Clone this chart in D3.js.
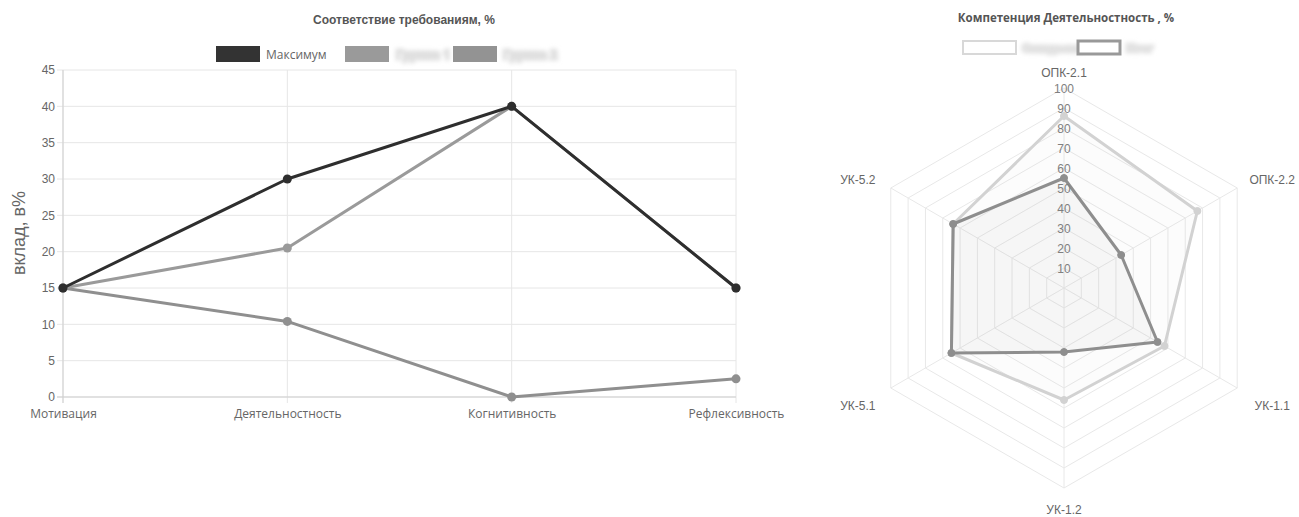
<!DOCTYPE html>
<html><head><meta charset="utf-8">
<script src="https://cdn.jsdelivr.net/npm/d3@7"></script>
<style>body{margin:0;background:#fff}svg{display:block}</style>
</head><body>
<svg id="c" width="1299" height="517"></svg>
<script>
// ---- Line chart data ----
const lineCategories = ["Мотивация","Деятельностность","Когнитивность","Рефлексивность"];
const lineSeriesNames = ["Максимум","Группа 1","Группа 2"];
const maxValues = [15, 30, 40, 15];
const group1Values = [15, 20.5, 40, 15];
const group2Values = [15, 10.4, 0, 2.5];
const yTicks = [0,5,10,15,20,25,30,35,40,45];

// ---- Radar chart data ----
const radarAxes = ["ОПК-2.1","ОПК-2.2","УК-1.1","УК-1.2","УК-5.1","УК-5.2"];
const radarSeriesNames = ["Ожидаемо","Итог"];
const radarExpected = [86, 77, 58, 56, 65, 64];
const radarResult = [55, 33, 54, 32, 65, 64];
const radarTicks = [10,20,30,40,50,60,70,80,90,100];

const svg = d3.select("#c");
const defs = svg.append("defs");
defs.append("filter").attr("id","blur").attr("x","-20%").attr("y","-60%").attr("width","140%").attr("height","220%")
  .append("feGaussianBlur").attr("stdDeviation", 2.2);

// ================= LINE CHART =================
const x = d3.scalePoint().domain(lineCategories).range([63, 736]);
const y = d3.scaleLinear().domain([0,45]).range([397, 70]);
const g = svg.append("g");

// grid
g.append("g").selectAll("line").data(yTicks).join("line")
  .attr("x1", 57).attr("x2", 736).attr("y1", d=>y(d)).attr("y2", d=>y(d))
  .attr("stroke", "#e6e6e6").attr("stroke-width", 1);
g.append("g").selectAll("line").data(lineCategories).join("line")
  .attr("x1", d=>x(d)).attr("x2", d=>x(d)).attr("y1", 70).attr("y2", 403)
  .attr("stroke", "#e6e6e6").attr("stroke-width", 1);
// axis lines
g.append("line").attr("x1",63).attr("x2",63).attr("y1",70).attr("y2",403).attr("stroke","#cfcfcf");
g.append("line").attr("x1",57).attr("x2",736).attr("y1",397).attr("y2",397).attr("stroke","#cfcfcf");

// y tick labels
const yAxis = d3.axisLeft(y).tickValues(yTicks).tickSize(0).tickPadding(8);
const ya = g.append("g").attr("transform","translate(63,0)").call(yAxis);
ya.select(".domain").remove();
ya.selectAll("text").attr("font-family","Liberation Sans, Arial, sans-serif").attr("font-size",12).attr("fill","#666");

// x tick labels
const xAxis = d3.axisBottom(x).tickSize(0).tickPadding(12);
const xa = g.append("g").attr("transform","translate(0,397)").call(xAxis);
xa.select(".domain").remove();
xa.selectAll("text").attr("font-family","Open Sans, sans-serif").attr("font-size",12).attr("fill","#666");

// y title
g.append("text").attr("transform","translate(25,233) rotate(-90)").attr("text-anchor","middle")
  .attr("font-family","Liberation Sans, Arial, sans-serif").attr("font-size",18).attr("fill","#666").text("вклад, в%");

// title
g.append("text").attr("x",404).attr("y",24).attr("text-anchor","middle")
  .attr("font-family","Liberation Sans Narrow, Liberation Sans, sans-serif").attr("font-weight","bold")
  .attr("font-size",12).attr("fill","#555").text("Соответствие требованиям, %");

const lineSeries = [
  {name: lineSeriesNames[2], values: group2Values, color:"#8f8f8f"},
  {name: lineSeriesNames[1], values: group1Values, color:"#9a9a9a"},
  {name: lineSeriesNames[0], values: maxValues, color:"#2e2e2e"}
];
const lineGen = d3.line().x((d,i)=>x(lineCategories[i])).y(d=>y(d));
lineSeries.forEach(s=>{
  g.append("path").attr("d", lineGen(s.values)).attr("fill","none").attr("stroke", s.color).attr("stroke-width",3).attr("stroke-linejoin","round");
  g.append("g").selectAll("circle").data(s.values).join("circle")
    .attr("cx",(d,i)=>x(lineCategories[i])).attr("cy",d=>y(d)).attr("r",4.5).attr("fill",s.color);
});

// legend
const lg = g.append("g");
const legItems = [
  {x:216, color:"#333", label:lineSeriesNames[0], blur:false, lx:266},
  {x:345, color:"#9a9a9a", label:lineSeriesNames[1], blur:true, lx:396},
  {x:453, color:"#939393", label:lineSeriesNames[2], blur:true, lx:503}
];
legItems.forEach(it=>{
  lg.append("rect").attr("x",it.x).attr("y",46).attr("width",44).attr("height",16).attr("fill",it.color);
  const t = lg.append("text").attr("x",it.lx).attr("y",59)
    .attr("font-family","Open Sans, sans-serif").attr("font-size",12).text(it.label);
  if(it.blur){ t.attr("fill","#e0e0e0").attr("filter","url(#blur)").attr("font-weight","bold").attr("stroke","#e0e0e0").attr("stroke-width",3); }
  else t.attr("fill","#666").attr("y",58.5);
});

// ================= RADAR CHART =================
const cx = 1064, cy = 288, R = 200;
const r = d3.scaleLinear().domain([0,100]).range([0,R]);
const ang = d3.scalePoint().domain(radarAxes).range([0, 2*Math.PI*(radarAxes.length-1)/radarAxes.length]);
const pt = (a, v) => [cx + r(v)*Math.sin(ang(a)), cy - r(v)*Math.cos(ang(a))];
const rg = svg.append("g");

// rings
radarTicks.forEach(t=>{
  rg.append("polygon").attr("points", radarAxes.map(a=>pt(a,t).join(",")).join(" "))
    .attr("fill","none").attr("stroke","#e8e8e8").attr("stroke-width",1);
});
// spokes
radarAxes.forEach(a=>{
  const p = pt(a,100);
  rg.append("line").attr("x1",cx).attr("y1",cy).attr("x2",p[0]).attr("y2",p[1]).attr("stroke","#e8e8e8");
});

const radarSeries = [
  {name: radarSeriesNames[0], values: radarExpected, color:"#d2d2d2", fill:"rgba(200,200,200,0.06)"},
  {name: radarSeriesNames[1], values: radarResult, color:"#8e8e8e", fill:"rgba(160,160,160,0.06)"}
];
radarSeries.forEach(s=>{
  rg.append("polygon").attr("points", radarAxes.map((a,i)=>pt(a,s.values[i]).join(",")).join(" "))
    .attr("fill", s.fill).attr("stroke", s.color).attr("stroke-width",3).attr("stroke-linejoin","round");
  rg.append("g").selectAll("circle").data(s.values).join("circle")
    .attr("cx",(d,i)=>pt(radarAxes[i],d)[0]).attr("cy",(d,i)=>pt(radarAxes[i],d)[1])
    .attr("r",3.5).attr("fill",s.color).attr("stroke",s.color);
});

// tick labels
rg.append("g").selectAll("text").data(radarTicks).join("text")
  .attr("x", cx).attr("y", d=>cy - r(d) + 4.5).attr("text-anchor","middle")
  .attr("font-family","Liberation Sans, Arial, sans-serif").attr("font-size",12).attr("fill","#808080").text(d=>d);

// axis labels
rg.append("g").selectAll("text").data(radarAxes).join("text")
  .attr("x", d=>{const p=pt(d,100); const dx=p[0]-cx; return p[0] + (Math.abs(dx)<1?0: (dx>0?35:-33));})
  .attr("y", d=>{const p=pt(d,100); const dy=p[1]-cy; return p[1] + (dy< -150? -11 : dy>150 ? 26 : (dy<0? -4: 22));})
  .attr("text-anchor","middle")
  .attr("font-family","Liberation Sans, Arial, sans-serif").attr("font-size",12).attr("fill","#666").text(d=>d);

// title
rg.append("text").attr("x",1066).attr("y",22).attr("text-anchor","middle")
  .attr("font-family","Open Sans, sans-serif").attr("font-weight","bold")
  .attr("font-size",11.5).attr("fill","#555").text("Компетенция Деятельностность , %");

// legend
const rl = [
  {x:963, w:53, color:"#d8d8d8", sw:2, label:radarSeriesNames[0], lx:1022},
  {x:1078, w:42, color:"#999", sw:3, label:radarSeriesNames[1], lx:1126}
];
rl.forEach(it=>{
  rg.append("rect").attr("x",it.x).attr("y",41).attr("width",it.w).attr("height",13)
    .attr("fill","#fff").attr("stroke",it.color).attr("stroke-width",it.sw);
  rg.append("text").attr("x",it.lx).attr("y",52).attr("font-family","Open Sans, sans-serif")
    .attr("font-size",11).attr("font-weight","bold").attr("fill","#e0e0e0").attr("stroke","#e2e2e2").attr("stroke-width",3)
    .attr("filter","url(#blur)").text(it.label);
});
</script>
</body></html>
